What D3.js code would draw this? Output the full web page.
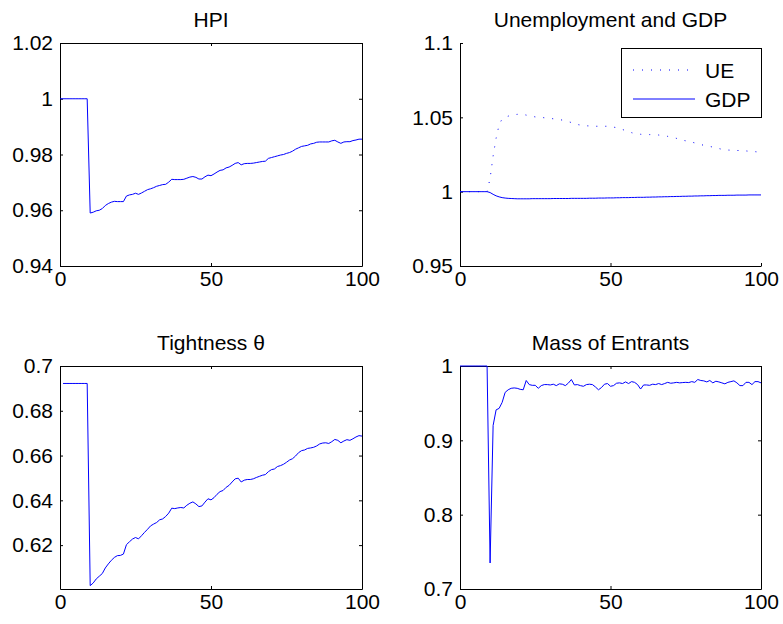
<!DOCTYPE html>
<html lang="en">
<head>
    <meta charset="UTF-8">
    <title>Impulse responses</title>
    <script src="https://d3js.org/d3.v7.min.js"></script>
    <style>
        body {
            margin: 0;
            background: #fff;
        }
        svg text {
            font-family: "Liberation Sans", Arial, Helvetica, sans-serif;
            font-size: 21px;
            fill: #000;
        }
        .axis path, .axis line {
            stroke: #000;
        }
    </style>
</head>
<body>

    <div id="chart"></div>

    <script>
        // x runs 0..100 for everything except tightness, which starts at t = 1
        var xTicks = [0, 50, 100];

        var hpi = [
            1, 1, 1, 1, 1, 1, 1, 1, 1, 1,
            0.959, 0.9593, 0.9598, 0.96, 0.9606, 0.9617, 0.9624, 0.9629, 0.9632, 0.9631,
            0.9631, 0.9631, 0.9651, 0.9655, 0.9657, 0.9661, 0.9657, 0.9662, 0.9668, 0.9674,
            0.9677, 0.9681, 0.9686, 0.9689, 0.9692, 0.9693, 0.9701, 0.9711, 0.971, 0.971,
            0.971, 0.9711, 0.9715, 0.9719, 0.9721, 0.9718, 0.9712, 0.9712, 0.972, 0.9726,
            0.9724, 0.973, 0.9737, 0.9743, 0.9745, 0.9752, 0.9755, 0.9761, 0.9768, 0.9771,
            0.9763, 0.9767, 0.9768, 0.9768, 0.9769, 0.9771, 0.9773, 0.9775, 0.9776, 0.9786,
            0.9789, 0.9792, 0.9795, 0.9798, 0.98, 0.9804, 0.9807, 0.9812, 0.9819, 0.9824,
            0.9829, 0.9831, 0.9833, 0.9838, 0.984, 0.9844, 0.9845, 0.9845, 0.9845, 0.9845,
            0.9849, 0.9851, 0.9845, 0.984, 0.9845, 0.9846, 0.9846, 0.985, 0.9852, 0.9855,
            0.9855
        ];

        var unemployment = [
            1, 1, 1, 1, 1, 1, 1, 1, 1, 1,
            1.009, 1.024, 1.036, 1.045, 1.049, 1.05, 1.0508, 1.0513, 1.0518, 1.052,
            1.0522, 1.052, 1.0515, 1.051, 1.0506, 1.0503, 1.0501, 1.05, 1.0497, 1.0495,
            1.0493, 1.049, 1.0488, 1.0486, 1.0481, 1.0476, 1.0471, 1.0465, 1.0458, 1.0452,
            1.0448, 1.0445, 1.0443, 1.0442, 1.0441, 1.044, 1.044, 1.044, 1.044, 1.044,
            1.0438, 1.0434, 1.0431, 1.0425, 1.0418, 1.0411, 1.0404, 1.0397, 1.0391, 1.0388,
            1.0386, 1.0384, 1.0384, 1.0384, 1.0384, 1.0383, 1.0381, 1.0378, 1.0376, 1.0372,
            1.0368, 1.0364, 1.0358, 1.0352, 1.0346, 1.0342, 1.0337, 1.0333, 1.0328, 1.0322,
            1.0317, 1.0312, 1.0308, 1.0304, 1.03, 1.0295, 1.029, 1.0285, 1.0282, 1.028,
            1.0279, 1.0278, 1.0277, 1.0277, 1.0276, 1.0274, 1.0272, 1.027, 1.0269, 1.0267,
            1.0266
        ];

        var gdp = [
            1, 1, 1, 1, 1, 1, 1, 1, 1, 1,
            0.9994, 0.9982, 0.9972, 0.9965, 0.996, 0.9957, 0.9955, 0.9954, 0.9953, 0.9952,
            0.9952, 0.9952, 0.9952, 0.9952, 0.9953, 0.9953, 0.9953, 0.9953, 0.9953, 0.9953,
            0.9953, 0.9954, 0.9954, 0.9954, 0.9954, 0.9954, 0.9954, 0.9955, 0.9955, 0.9955,
            0.9955, 0.9955, 0.9955, 0.9956, 0.9956, 0.9956, 0.9957, 0.9957, 0.9957, 0.9958,
            0.9958, 0.9958, 0.9959, 0.9959, 0.996, 0.996, 0.996, 0.9961, 0.9961, 0.9962,
            0.9962, 0.9962, 0.9963, 0.9963, 0.9964, 0.9964, 0.9965, 0.9965, 0.9966, 0.9966,
            0.9967, 0.9967, 0.9968, 0.9968, 0.9969, 0.9969, 0.997, 0.997, 0.9971, 0.9971,
            0.9972, 0.9972, 0.9973, 0.9973, 0.9974, 0.9974, 0.9975, 0.9975, 0.9975, 0.9976,
            0.9976, 0.9976, 0.9977, 0.9977, 0.9977, 0.9977, 0.9978, 0.9978, 0.9978, 0.9978,
            0.9978
        ];

        var tightness = [
            0.6922, 0.6922, 0.6922, 0.6922, 0.6922, 0.6922, 0.6922, 0.6922, 0.6922,
            0.6019, 0.6031, 0.6049, 0.6061, 0.6073, 0.6098, 0.6116, 0.6132, 0.6145, 0.6153,
            0.6154, 0.616, 0.6202, 0.6215, 0.6227, 0.6234, 0.6228, 0.6242, 0.6257, 0.6271,
            0.6286, 0.6294, 0.6301, 0.6313, 0.6317, 0.6328, 0.6343, 0.6365, 0.6363, 0.6366,
            0.6368, 0.6366, 0.6378, 0.6387, 0.6393, 0.6384, 0.6372, 0.6375, 0.6392, 0.6407,
            0.6402, 0.6412, 0.6427, 0.6439, 0.6444, 0.6458, 0.6467, 0.6482, 0.6496, 0.6499,
            0.6482, 0.649, 0.6493, 0.6493, 0.6496, 0.6502, 0.6507, 0.6512, 0.6515, 0.6528,
            0.6537, 0.654, 0.6551, 0.6555, 0.6561, 0.657, 0.658, 0.6586, 0.6598, 0.6613,
            0.6622, 0.6625, 0.6632, 0.6634, 0.6637, 0.6643, 0.6652, 0.6656, 0.6657, 0.6654,
            0.6662, 0.6672, 0.6668, 0.6657, 0.6665, 0.6671, 0.6668, 0.6675, 0.6683, 0.6689,
            0.6687
        ];

        var entrants = [
            1, 1, 1, 1, 1, 1, 1, 1, 1, 1,
            0.735, 0.92, 0.941, 0.943, 0.951, 0.9645, 0.968, 0.97, 0.9705, 0.97,
            0.9686, 0.968, 0.9805, 0.975, 0.974, 0.974, 0.97, 0.9736, 0.975, 0.975,
            0.9745, 0.9755, 0.9736, 0.976, 0.9755, 0.9736, 0.977, 0.9818, 0.9745, 0.975,
            0.9736, 0.9727, 0.975, 0.9755, 0.975, 0.9718, 0.968, 0.971, 0.9755, 0.9764,
            0.9727, 0.9736, 0.9768, 0.9773, 0.9764, 0.9786, 0.9764, 0.979, 0.978, 0.975,
            0.969, 0.9745, 0.9745, 0.974, 0.9755, 0.975, 0.9764, 0.975, 0.9764, 0.978,
            0.9768, 0.9773, 0.978, 0.9773, 0.9777, 0.978, 0.9777, 0.979, 0.978, 0.9818,
            0.9805, 0.98, 0.9786, 0.9805, 0.9773, 0.9795, 0.9786, 0.9773, 0.976, 0.978,
            0.979, 0.98, 0.9773, 0.9736, 0.9736, 0.978, 0.978, 0.975, 0.979, 0.979,
            0.9773
        ];

        var hpiTicks = [0.94, 0.96, 0.98, 1, 1.02];
        var ueGdpTicks = [0.95, 1, 1.05, 1.1];
        var tightnessTicks = [0.62, 0.64, 0.66, 0.68, 0.7];
        var entrantsTicks = [0.7, 0.8, 0.9, 1];

        var legendNames = ["UE", "GDP"];

        var panels = [
            { title: "HPI", x0: 60, x1: 362, y0: 43, y1: 266,
              yDomain: [0.94, 1.02], yTicks: hpiTicks, box: true,
              series: [{ values: hpi, start: 0, dash: null }] },
            { title: "Unemployment and GDP", x0: 460, x1: 761, y0: 43, y1: 266,
              yDomain: [0.95, 1.1], yTicks: ueGdpTicks, box: false,
              series: [{ values: unemployment, start: 0, dash: "1,8" },
                       { values: gdp, start: 0, dash: null }],
              legend: { x: 621, y: 48, w: 140, h: 69 } },
            { title: "Tightness \u03b8", x0: 60, x1: 362, y0: 366, y1: 589,
              yDomain: [0.6004, 0.7], yTicks: tightnessTicks, box: true,
              series: [{ values: tightness, start: 1, dash: null }] },
            { title: "Mass of Entrants", x0: 460, x1: 761, y0: 366, y1: 589,
              yDomain: [0.7, 1], yTicks: entrantsTicks, box: true,
              series: [{ values: entrants, start: 0, dash: null }] }
        ];

        var svg = d3.select("#chart")
                    .append("svg")
                    .attr("width", 783)
                    .attr("height", 624);

        panels.forEach(drawPanel);

        function drawPanel(p) {
            var x = d3.scaleLinear().domain([0, 100]).range([p.x0, p.x1]);
            var y = d3.scaleLinear().domain(p.yDomain).range([p.y1, p.y0]);
            var g = svg.append("g");

            // MATLAB style: ticks point inward
            g.append("g")
                .attr("class", "axis")
                .attr("transform", "translate(0," + p.y1 + ")")
                .call(d3.axisBottom(x).tickValues(xTicks).tickSizeInner(-3).tickSizeOuter(0)
                    .tickPadding(5).tickFormat(String));

            g.append("g")
                .attr("class", "axis")
                .attr("transform", "translate(" + p.x0 + ",0)")
                .call(d3.axisLeft(y).tickValues(p.yTicks).tickSizeInner(-3).tickSizeOuter(0)
                    .tickPadding(7).tickFormat(String));

            if (p.box) {
                g.append("g")
                    .attr("class", "axis")
                    .attr("transform", "translate(0," + p.y0 + ")")
                    .call(d3.axisTop(x).tickValues(xTicks).tickSizeInner(-3).tickSizeOuter(0).tickFormat(""));
                g.append("g")
                    .attr("class", "axis")
                    .attr("transform", "translate(" + p.x1 + ",0)")
                    .call(d3.axisRight(y).tickValues(p.yTicks).tickSizeInner(-3).tickSizeOuter(0).tickFormat(""));
            }

            g.append("text")
                .attr("x", (p.x0 + p.x1) / 2)
                .attr("y", p.y0 - 16)
                .attr("text-anchor", "middle")
                .text(p.title);

            p.series.forEach(function(s) {
                var line = d3.line()
                    .x(function(d, i) { return x(s.start + i); })
                    .y(function(d) { return y(d); });
                g.append("path")
                    .datum(s.values)
                    .attr("d", line)
                    .attr("fill", "none")
                    .attr("stroke", "#0000ff")
                    .attr("stroke-width", 1)
                    .attr("stroke-dasharray", s.dash);
            });

            if (p.legend) {
                var L = p.legend;
                var lg = g.append("g");
                lg.append("rect")
                    .attr("x", L.x + 0.5)
                    .attr("y", L.y + 0.5)
                    .attr("width", L.w)
                    .attr("height", L.h)
                    .attr("fill", "#fff")
                    .attr("stroke", "#000");
                legendNames.forEach(function(name, i) {
                    var ry = L.y + 22 + i * 29;
                    lg.append("line")
                        .attr("x1", L.x + 12)
                        .attr("x2", L.x + 74)
                        .attr("y1", ry)
                        .attr("y2", ry)
                        .attr("stroke", "#0000ff")
                        .attr("stroke-dasharray", p.series[i].dash);
                    lg.append("text")
                        .attr("x", L.x + 84)
                        .attr("y", ry)
                        .attr("dy", "0.36em")
                        .text(name);
                });
            }
        }
    </script>
</body>
</html>
